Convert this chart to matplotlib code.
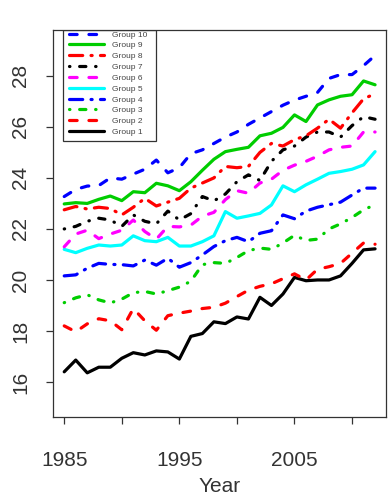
import matplotlib
matplotlib.use('Agg')
import matplotlib.pyplot as plt
from matplotlib.patches import Rectangle

plt.rcParams['font.family'] = ['Liberation Sans', 'DejaVu Sans']
plt.rcParams['lines.scale_dashes'] = False

years = list(range(1985, 2013))

group1 = [16.40, 16.86, 16.36, 16.58, 16.58, 16.93, 17.15, 17.06, 17.22, 17.18,
          16.90, 17.79, 17.90, 18.36, 18.29, 18.55, 18.47, 19.32, 19.00, 19.45,
          20.10, 19.97, 20.00, 20.00, 20.16, 20.65, 21.18, 21.22]
group2 = [18.20, 17.97, 18.28, 18.48, 18.40, 18.05, 18.88, 18.40, 18.03, 18.60,
          18.70, 18.78, 18.88, 18.93, 19.09, 19.35, 19.60, 19.75, 19.85, 20.05,
          20.24, 20.00, 20.42, 20.52, 20.65, 21.05, 21.45, 21.40]
group3 = [19.11, 19.30, 19.42, 19.22, 19.10, 19.25, 19.50, 19.55, 19.45, 19.58,
          19.72, 19.95, 20.60, 20.68, 20.65, 20.88, 21.15, 21.25, 21.20, 21.45,
          21.75, 21.55, 21.60, 22.00, 22.20, 22.45, 22.75, 22.95]
group4 = [20.16, 20.20, 20.46, 20.65, 20.61, 20.60, 20.55, 20.78, 20.58, 20.85,
          20.50, 20.68, 20.98, 21.31, 21.54, 21.67, 21.50, 21.83, 21.93, 22.55,
          22.40, 22.70, 22.85, 22.95, 23.05, 23.33, 23.60, 23.60]
group5 = [21.20, 21.07, 21.24, 21.37, 21.33, 21.37, 21.73, 21.54, 21.50, 21.67,
          21.33, 21.33, 21.50, 21.73, 22.68, 22.42, 22.51, 22.61, 22.94, 23.69,
          23.46, 23.73, 23.95, 24.18, 24.25, 24.34, 24.51, 25.03]
group6 = [21.30, 21.80, 21.95, 21.62, 21.80, 21.95, 22.35, 21.90, 21.60, 22.10,
          22.08, 22.15, 22.50, 22.65, 23.15, 23.50, 23.40, 23.80, 23.95, 24.30,
          24.50, 24.65, 24.85, 25.10, 25.20, 25.25, 25.80, 25.80]
group7 = [22.00, 22.10, 22.30, 22.42, 22.35, 22.10, 22.55, 22.30, 22.20, 22.70,
          22.35, 22.60, 23.27, 23.10, 23.37, 23.85, 24.12, 23.90, 24.65, 25.10,
          25.25, 25.60, 25.80, 25.80, 25.60, 26.05, 26.40, 26.30]
group8 = [22.75, 22.88, 22.78, 22.85, 22.80, 22.55, 22.85, 23.20, 22.90, 23.05,
          23.20, 23.60, 23.80, 24.00, 24.45, 24.40, 24.45, 25.00, 25.35, 25.25,
          25.50, 25.65, 25.95, 26.30, 25.95, 26.55, 27.10, 27.30]
group9 = [22.98, 23.03, 23.00, 23.16, 23.29, 23.11, 23.46, 23.42, 23.79, 23.69,
          23.50, 23.85, 24.30, 24.73, 25.03, 25.12, 25.20, 25.65, 25.75, 25.98,
          26.47, 26.21, 26.86, 27.06, 27.20, 27.26, 27.80, 27.65]
group10 = [23.27, 23.55, 23.68, 23.70, 24.00, 23.95, 24.15, 24.34, 24.70, 24.20,
           24.40, 24.95, 25.10, 25.35, 25.60, 25.80, 26.10, 26.35, 26.60, 26.85,
           27.05, 27.20, 27.35, 27.90, 28.05, 28.05, 28.40, 28.80]

series = [group1, group2, group3, group4, group5, group6, group7, group8, group9, group10]
labels = ['Group %d' % k for k in range(1, 11)]
colors = ['#000000', '#FF0000', '#00CD00', '#0000FF', '#00FFFF', '#FF00FF',
          '#000000', '#FF0000', '#00CD00', '#0000FF']
dash_dashed = (0, (5.5, 8.5))
dash_dotted = (0, (0.3, 7.0, 4.5, 7.0))
dash_dotdash = (0, (9.5, 6.0, 0.8, 6.0))
styles = ['-', dash_dashed, dash_dotted, dash_dotdash] * 3

xticks = [1985, 1990, 1995, 2000, 2005, 2010]
xticklabels = ['1985', '', '1995', '', '2005', '']
yticks = [16, 18, 20, 22, 24, 26, 28]

fig = plt.figure(figsize=(3.89, 4.99), dpi=100)
ax = fig.add_axes([0.1355, 0.1649, 0.8568, 0.7751])

handles = []
for k, (vals, col, ls) in enumerate(zip(series, colors, styles)):
    h, = ax.plot(years, vals, color=col, linestyle=ls, linewidth=2.3,
                 solid_capstyle='round', dash_capstyle='round',
                 solid_joinstyle='round', zorder=2 + k)
    handles.append(h)

ax.set_xlim(1984.0, 2012.95)
ax.set_ylim(14.64, 29.8)
ax.set_xticks(xticks)
ax.set_xticklabels(xticklabels)
ax.set_yticks(yticks)
ax.set_yticklabels([str(v) for v in yticks])

for sp in ax.spines.values():
    sp.set_color('#333333')
    sp.set_linewidth(0.9)

ax.tick_params(axis='both', length=5, width=0.9, color='#333333',
               labelsize=15, labelcolor='#333333')
ax.tick_params(axis='x', pad=20)
ax.tick_params(axis='y', pad=11, labelrotation=90)
for lbl in ax.get_yticklabels():
    lbl.set_va('center')

ax.set_xlabel('Year', fontsize=15, color='#333333', labelpad=5)

leg = ax.legend(handles[::-1], labels[::-1], loc='upper left',
                bbox_to_anchor=(0.050, 0.998), frameon=False,
                fontsize=6, handlelength=4.2, handletextpad=0.9,
                labelspacing=0.36, borderpad=0.0, borderaxespad=0.0)
for t in leg.get_texts():
    t.set_color('#444444')
leg.set_zorder(20)

# legend box
x0 = (63 - 52.7) / 333.3
x1 = (156 - 52.7) / 333.3
y0 = (416.7 - 141) / 386.7
rect = Rectangle((x0, y0), x1 - x0, 1.0 - y0, transform=ax.transAxes,
                 fill=False, edgecolor='#333333', linewidth=0.9, zorder=19)
ax.add_patch(rect)

fig.savefig('out.png', dpi=100)
